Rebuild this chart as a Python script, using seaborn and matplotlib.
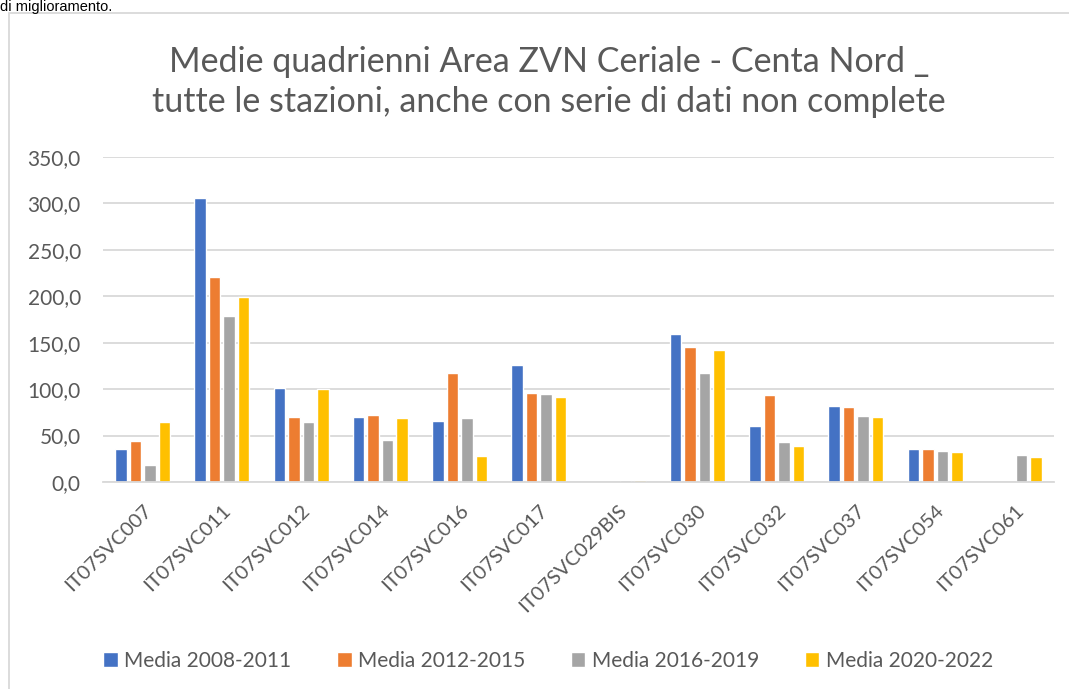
import numpy as np
import pandas as pd
import matplotlib
matplotlib.use('Agg')
import matplotlib.pyplot as plt
import seaborn as sns
from matplotlib.patches import Rectangle
from matplotlib.ticker import FuncFormatter

# Stations and the four multi-year averages
stazioni = ['IT07SVC007', 'IT07SVC011', 'IT07SVC012', 'IT07SVC014', 'IT07SVC016', 'IT07SVC017',
            'IT07SVC029BIS', 'IT07SVC030', 'IT07SVC032', 'IT07SVC037', 'IT07SVC054', 'IT07SVC061']
serie = ['Media 2008-2011', 'Media 2012-2015', 'Media 2016-2019', 'Media 2020-2022']

media_2008_2011 = [35.6, 305.4, 101.4, 69.8, 65.2, 126.3, np.nan, 159.0, 60.2, 81.7, 35.9, np.nan]
media_2012_2015 = [43.9, 220.5, 69.8, 72.3, 117.2, 95.7, np.nan, 145.0, 94.1, 81.0, 35.9, np.nan]
media_2016_2019 = [18.0, 179.1, 64.4, 45.0, 69.4, 95.3, 2.0, 117.6, 43.0, 71.6, 33.1, 29.5]
media_2020_2022 = [64.4, 198.9, 100.4, 69.0, 28.4, 91.4, 2.5, 142.0, 39.0, 69.8, 32.4, 27.0]

colori = ['#4472C4', '#ED7D31', '#A5A5A5', '#FFC000']

df = pd.DataFrame({
    'stazione': stazioni * 4,
    'serie': np.repeat(serie, len(stazioni)),
    'valore': media_2008_2011 + media_2012_2015 + media_2016_2019 + media_2020_2022,
})

sns.set_theme(style='white')
plt.rcParams['font.family'] = ['Lato', 'DejaVu Sans']
grigio = '#595959'

fig = plt.figure(figsize=(10.69, 6.89), dpi=100)
ax = fig.add_axes([103 / 1069, 1 - 482 / 689, (1054 - 103) / 1069, (482 - 157) / 689])

sns.barplot(data=df, x='stazione', y='valore', hue='serie', hue_order=serie,
            palette=colori, width=0.73, gap=0.2, errorbar=None, ax=ax, saturation=1)

ax.set_ylim(0, 350)
ax.set_yticks(np.arange(0, 351, 50))
ax.yaxis.set_major_formatter(FuncFormatter(lambda v, p: f'{v:.1f}'.replace('.', ',')))
ax.yaxis.grid(True, color='#D9D9D9', linewidth=1.3)
ax.set_axisbelow(True)
ax.set_xlabel('')
ax.set_ylabel('')
for s in ['top', 'right', 'left']:
    ax.spines[s].set_visible(False)
ax.spines['bottom'].set_color('#D9D9D9')
ax.spines['bottom'].set_linewidth(1.3)
ax.tick_params(axis='y', length=0, pad=16, labelsize=15, labelcolor=grigio)
ax.tick_params(axis='x', length=0, pad=14, labelsize=14.5, labelcolor=grigio)
plt.setp(ax.get_xticklabels(), rotation=45, ha='right', rotation_mode='anchor')

sns.move_legend(ax, 'center', bbox_to_anchor=(548 / 1069, 1 - 661 / 689),
                bbox_transform=fig.transFigure, ncol=4, frameon=False, title=None,
                fontsize=15, handlelength=0.7, handleheight=0.7, handletextpad=0.3,
                columnspacing=2.2, labelcolor=grigio)

fig.text(549 / 1069, 1 - 82 / 689,
         'Medie quadrienni Area ZVN Ceriale - Centa Nord _\ntutte le stazioni, anche con serie di dati non complete',
         ha='center', va='center', fontsize=24.5, color=grigio, linespacing=1.3)

# chart frame and the text line above it
fig.patches.append(Rectangle((9 / 1069, -0.05), 1.1, 1 - 13 / 689 + 0.05, transform=fig.transFigure,
                             fill=False, edgecolor='#D9D9D9', linewidth=1.3))
fig.text(0, 1 - 0.5 / 689, 'di miglioramento.', ha='left', va='top', fontsize=10.5,
         color='black', family=['Liberation Sans', 'DejaVu Sans'])

fig.savefig('out.png', dpi=100)
